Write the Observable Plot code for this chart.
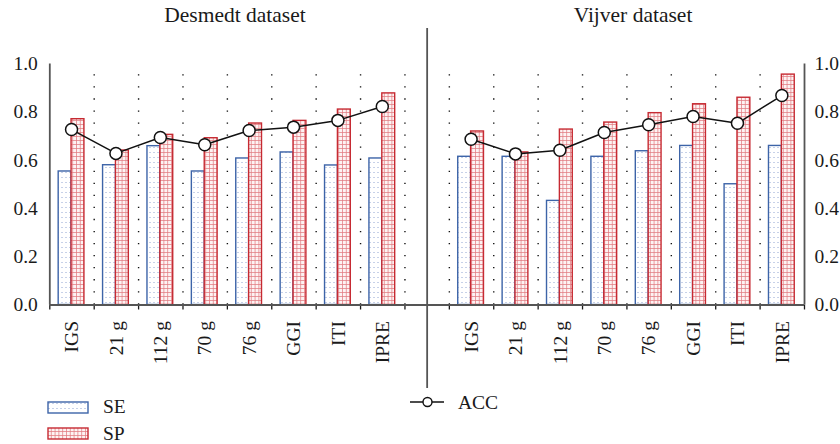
<!DOCTYPE html>
<html>
<head>
<meta charset="utf-8">
<script src="https://cdn.jsdelivr.net/npm/d3@7"></script>
<script src="https://cdn.jsdelivr.net/npm/@observablehq/plot@0.6"></script>
<style>
  body { margin: 0; background: #fff; }
  #wrap { position: relative; width: 840px; height: 444px; font-family: "Liberation Serif", "DejaVu Serif", serif; color: #1a1a1a; }
  #wrap > svg.plot { position: absolute; left: 0; top: 0; }
  .title { position: absolute; top: 3px; font-size: 21.5px; transform: translateX(-50%); white-space: nowrap; }
  .leg { position: absolute; font-size: 19.5px; line-height: 1; white-space: nowrap; }
  .sw { position: absolute; }
</style>
</head>
<body>
<svg width="0" height="0" style="position:absolute">
  <defs>
    <pattern id="patSE" patternUnits="userSpaceOnUse" width="4" height="5">
      <rect width="4" height="5" fill="#ffffff"/>
      <rect x="1.5" y="2" width="1" height="1" fill="#8fa4d2"/>
    </pattern>
    <pattern id="patSP" patternUnits="userSpaceOnUse" width="3.8" height="4">
      <rect width="3.8" height="4" fill="#fdf3f3"/>
      <line x1="0" y1="0.4" x2="3.8" y2="0.4" stroke="#e2797f" stroke-width="0.8"/>
      <line x1="0.4" y1="0" x2="0.4" y2="4" stroke="#e2797f" stroke-width="0.8"/>
    </pattern>
  </defs>
</svg>
<div id="wrap"></div>
<script>
const categories = ["IGS", "21 g", "112 g", "70 g", "76 g", "GGI", "ITI", "IPRE"];
const datasets = ["Desmedt dataset", "Vijver dataset"];
const desmedtSE  = [0.554, 0.580, 0.659, 0.554, 0.608, 0.633, 0.579, 0.608];
const desmedtSP  = [0.771, 0.641, 0.706, 0.692, 0.753, 0.764, 0.811, 0.878];
const desmedtACC = [0.728, 0.629, 0.695, 0.665, 0.724, 0.738, 0.766, 0.824];
const vijverSE   = [0.615, 0.615, 0.432, 0.615, 0.638, 0.660, 0.501, 0.660];
const vijverSP   = [0.720, 0.633, 0.728, 0.757, 0.796, 0.833, 0.860, 0.956];
const vijverACC  = [0.688, 0.627, 0.642, 0.716, 0.748, 0.782, 0.754, 0.869];
const yTicks = [0, 0.2, 0.4, 0.6, 0.8, 1.0];
const seriesNames = ["SE", "SP", "ACC"];

const seriesByDataset = [
  {se: desmedtSE, sp: desmedtSP, acc: desmedtACC},
  {se: vijverSE, sp: vijverSP, acc: vijverACC}
];
const slotsPerDataset = categories.length + 1; // one empty slot between panels
const nSlots = slotsPerDataset * datasets.length - 1;
const gapSlot = categories.length + 0.5;

const rows = [];
datasets.forEach((ds, d) => {
  categories.forEach((c, i) => {
    rows.push({
      dataset: ds, category: c, slot: d * slotsPerDataset + i,
      se: seriesByDataset[d].se[i], sp: seriesByDataset[d].sp[i], acc: seriesByDataset[d].acc[i]
    });
  });
});
const labelAt = new Map(rows.map(r => [r.slot + 0.5, r.category]));

const axisColor = "#555";
const chart = Plot.plot({
  width: 840,
  height: 444,
  marginLeft: 49.3,
  marginRight: 36,
  marginTop: 63.5,
  marginBottom: 139.5,
  style: {fontFamily: "'Liberation Serif', 'DejaVu Serif', serif", fontSize: "19.5px", color: "#1a1a1a", background: "transparent", overflow: "visible"},
  x: {domain: [0, nSlots], axis: null},
  y: {domain: [0, 1], axis: null},
  marks: [
    Plot.ruleX(d3.range(1, nSlots), {y1: 0, y2: 1, stroke: "#111", strokeWidth: 1.4, strokeDasharray: "1.3,10.75"}),
    Plot.rectY(rows, {x1: d => d.slot + 0.2, x2: d => d.slot + 0.49, y: "se", fill: "url(#patSE)", stroke: "#3d64a8", strokeWidth: 1.4}),
    Plot.rectY(rows, {x1: d => d.slot + 0.49, x2: d => d.slot + 0.78, y: "sp", fill: "url(#patSP)", stroke: "#c62a32", strokeWidth: 1.4}),
    Plot.line(rows, {x: d => d.slot + 0.49, y: "acc", z: "dataset", stroke: "#111", strokeWidth: 1.5}),
    Plot.dot(rows, {x: d => d.slot + 0.49, y: "acc", r: 6, fill: "white", stroke: "#111", strokeWidth: 1.5}),
    Plot.axisY({anchor: "left", ticks: yTicks, tickFormat: d3.format(".1f"), tickSize: 0, tickPadding: 12, label: null, fontSize: 19.5}),
    Plot.axisY({anchor: "right", ticks: yTicks, tickFormat: d3.format(".1f"), tickSize: 0, tickPadding: 10, label: null, fontSize: 19.5}),
    Plot.axisX({ticks: d3.range(0, nSlots + 1), tickFormat: () => "", tickSize: 5, label: null, strokeWidth: 1.3}),
    Plot.axisX({ticks: rows.map(r => r.slot + 0.5), tickFormat: v => labelAt.get(v) ?? "", tickSize: 0, tickRotate: -90, tickPadding: 16, label: null, fontSize: 19.5}),
    Plot.ruleY([0], {stroke: axisColor, strokeWidth: 1.8}),
    Plot.ruleX([0, nSlots], {y1: 0, y2: 1, stroke: axisColor, strokeWidth: 1.8}),
    Plot.ruleX([gapSlot], {y1: -0.346, y2: 1.147, stroke: axisColor, strokeWidth: 1.8})
  ]
});
const wrap = document.getElementById("wrap");
wrap.appendChild(chart);

// titles
const t1 = document.createElement("div");
t1.className = "title"; t1.style.left = "235px"; t1.textContent = datasets[0];
const t2 = document.createElement("div");
t2.className = "title"; t2.style.left = "633px"; t2.textContent = datasets[1];
wrap.appendChild(t1); wrap.appendChild(t2);

// legend
const legendHTML = `
  <svg class="sw" style="left:47px;top:400.5px" width="42" height="13"><rect x="1" y="1" width="40" height="11" fill="url(#patSE)" stroke="#3d64a8" stroke-width="1.4"/></svg>
  <div class="leg" style="left:103px;top:397px">${seriesNames[0]}</div>
  <svg class="sw" style="left:47px;top:427px" width="42" height="13"><rect x="1" y="1" width="40" height="11" fill="url(#patSP)" stroke="#c62a32" stroke-width="1.4"/></svg>
  <div class="leg" style="left:103px;top:424px">${seriesNames[1]}</div>
  <svg class="sw" style="left:408px;top:394px" width="38" height="16"><line x1="2" y1="8" x2="36" y2="8" stroke="#111" stroke-width="1.4"/><circle cx="19.5" cy="8" r="4.5" fill="white" stroke="#111" stroke-width="1.4"/></svg>
  <div class="leg" style="left:458px;top:392.5px">${seriesNames[2]}</div>
`;
wrap.insertAdjacentHTML("beforeend", legendHTML);
</script>
</body>
</html>
